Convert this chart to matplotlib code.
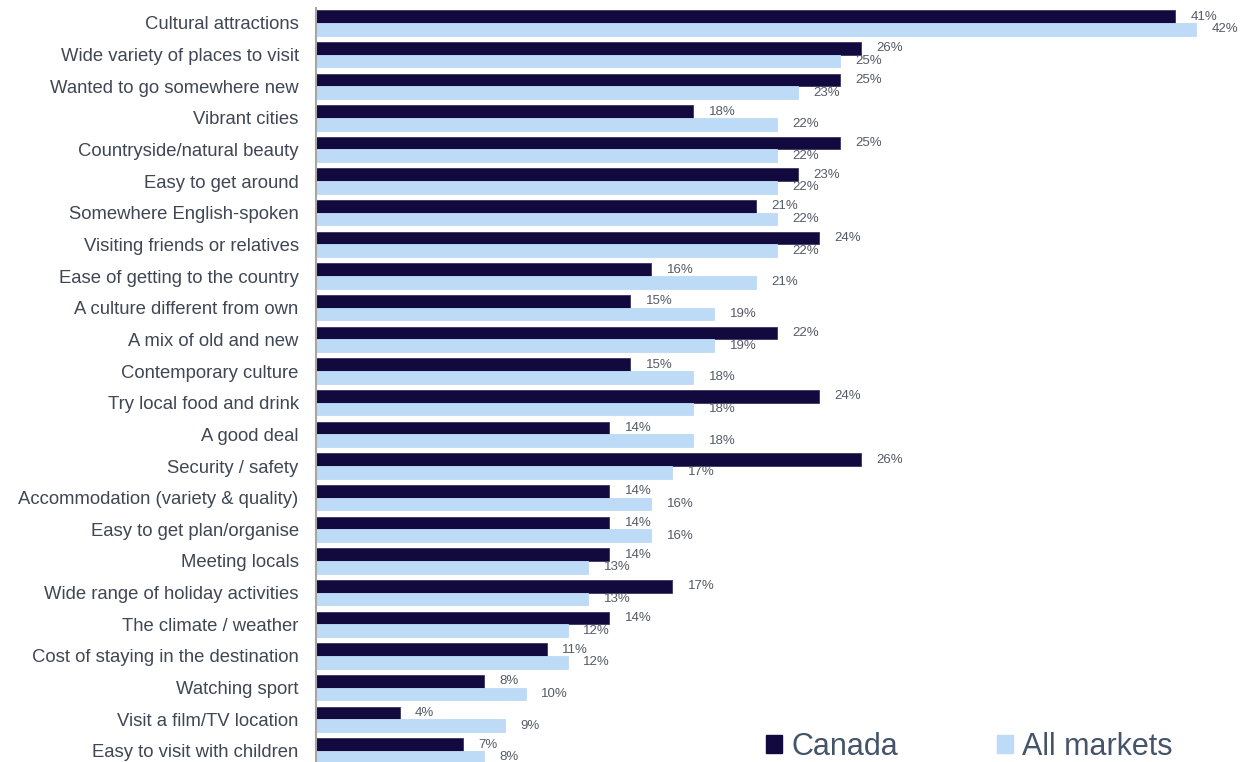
import matplotlib
matplotlib.use("Agg")
import matplotlib.pyplot as plt
import numpy as np
from matplotlib.patches import Patch

plt.rcParams['font.family'] = ['Liberation Sans', 'DejaVu Sans']

categories = [
    "Cultural attractions",
    "Wide variety of places to visit",
    "Wanted to go somewhere new",
    "Vibrant cities",
    "Countryside/natural beauty",
    "Easy to get around",
    "Somewhere English-spoken",
    "Visiting friends or relatives",
    "Ease of getting to the country",
    "A culture different from own",
    "A mix of old and new",
    "Contemporary culture",
    "Try local food and drink",
    "A good deal",
    "Security / safety",
    "Accommodation (variety & quality)",
    "Easy to get plan/organise",
    "Meeting locals",
    "Wide range of holiday activities",
    "The climate / weather",
    "Cost of staying in the destination",
    "Watching sport",
    "Visit a film/TV location",
    "Easy to visit with children",
]
canada = [41, 26, 25, 18, 25, 23, 21, 24, 16, 15, 22, 15, 24, 14, 26, 14, 14, 14, 17, 14, 11, 8, 4, 7]
all_markets = [42, 25, 23, 22, 22, 22, 22, 22, 21, 19, 19, 18, 18, 18, 17, 16, 16, 13, 13, 12, 12, 10, 9, 8]
series_names = ["Canada", "All markets"]

c_dark = "#120A3F"
c_light = "#BDDAF6"
text_col = "#3F4654"
val_col = "#545B66"

fig = plt.figure(figsize=(12.51, 7.62), dpi=100)
ax = fig.add_axes([316 / 1251, 0.0, 1 - 316 / 1251, 1 - 8 / 762])

y = np.arange(len(categories))
h = 0.40
ax.barh(y - h / 2, canada, height=h, color=c_dark, edgecolor="#3a3560", linewidth=0.6)
ax.barh(y + h / 2, all_markets, height=h, color=c_light, edgecolor=c_light, linewidth=0.6)

for yi, v in zip(y, canada):
    ax.annotate(f"{v}%", xy=(v, yi - h / 2), xytext=(11, 0), textcoords="offset points",
                ha="left", va="center", fontsize=9.5, color=val_col)
for yi, v in zip(y, all_markets):
    ax.annotate(f"{v}%", xy=(v, yi + h / 2), xytext=(11, 0), textcoords="offset points",
                ha="left", va="center", fontsize=9.5, color=val_col)

ax.set_xlim(0, 935 / 20.96)
ax.set_ylim(23.35, -0.47)
ax.set_yticks(y)
ax.set_yticklabels(categories, fontsize=13.3, color=text_col)
ax.tick_params(axis="y", length=0, pad=12.5)
ax.set_xticks([])

for s in ["top", "right", "bottom"]:
    ax.spines[s].set_visible(False)
ax.spines["left"].set_color("#A6A6A6")
ax.spines["left"].set_linewidth(1.5)

handles = [Patch(facecolor=c_dark, edgecolor=c_dark), Patch(facecolor=c_light, edgecolor=c_light)]
leg = fig.legend(handles, series_names, loc="center left", bbox_to_anchor=(766 / 1251, 1 - 747 / 762),
                 ncol=2, frameon=False, fontsize=22, handlelength=0.52, handleheight=0.52,
                 handletextpad=0.3, columnspacing=3.25, borderaxespad=0, borderpad=0)
for t in leg.get_texts():
    t.set_color("#44546A")

fig.savefig("out.png", dpi=100)
